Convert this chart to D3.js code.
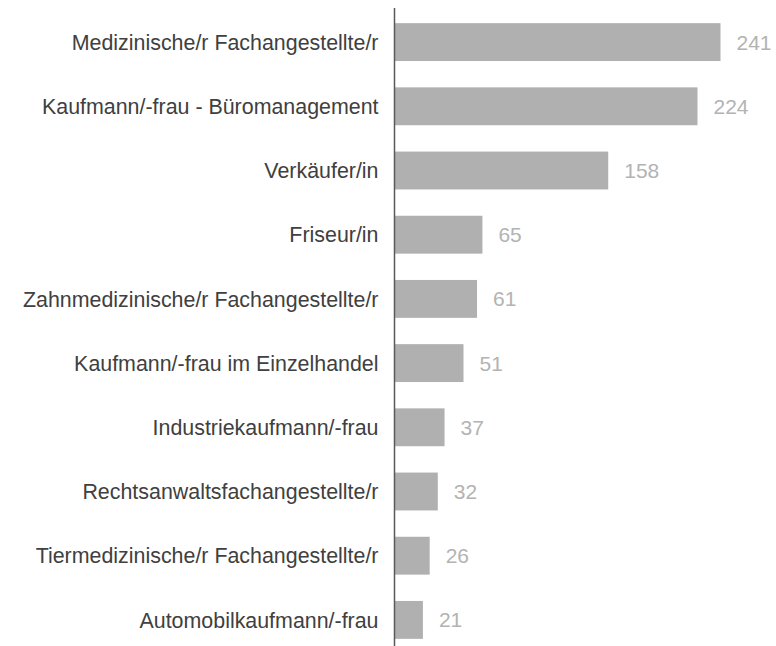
<!DOCTYPE html>
<html>
<head>
<meta charset="utf-8">
<script src="https://cdn.jsdelivr.net/npm/d3@7"></script>
<style>
html,body{margin:0;padding:0;background:#fff;}
svg{display:block;}
</style>
</head>
<body>
<svg id="chart" width="776" height="646"></svg>
<script>
const categories = [
  "Medizinische/r Fachangestellte/r",
  "Kaufmann/-frau - Büromanagement",
  "Verkäufer/in",
  "Friseur/in",
  "Zahnmedizinische/r Fachangestellte/r",
  "Kaufmann/-frau im Einzelhandel",
  "Industriekaufmann/-frau",
  "Rechtsanwaltsfachangestellte/r",
  "Tiermedizinische/r Fachangestellte/r",
  "Automobilkaufmann/-frau"
];
const values = [241, 224, 158, 65, 61, 51, 37, 32, 26, 21];

const svg = d3.select("#chart");
const x0 = 394.5;
const x = d3.scaleLinear().domain([0, 241]).range([x0, 720.5]);
const y = d3.scaleBand().domain(categories).range([10, 652]).paddingInner(0.41).paddingOuter(0.205);

svg.append("g").selectAll("rect").data(values).join("rect")
  .attr("x", x(0))
  .attr("y", (d, i) => y(categories[i]))
  .attr("width", d => x(d) - x(0))
  .attr("height", y.bandwidth())
  .attr("fill", "#b0b0b0");

svg.append("g").selectAll("text").data(values).join("text")
  .attr("x", d => x(d) + 16)
  .attr("y", (d, i) => y(categories[i]) + y.bandwidth() / 2)
  .attr("dy", "0.36em")
  .attr("font-family", "Liberation Sans, Arial, sans-serif")
  .attr("font-size", 21)
  .attr("fill", "#b3b3b3")
  .text(d => d);

const axis = d3.axisLeft(y).tickSize(0).tickPadding(16);
const g = svg.append("g").attr("transform", `translate(${x0},0)`).call(axis);
g.select(".domain").attr("stroke", "#595959").attr("stroke-width", 1.5).attr("d", "M0,8V652");
g.selectAll("text")
  .attr("font-family", "Liberation Sans, Arial, sans-serif")
  .attr("font-size", 21.4)
  .attr("dy", "0.36em")
  .attr("fill", "#404040");
</script>
</body>
</html>
